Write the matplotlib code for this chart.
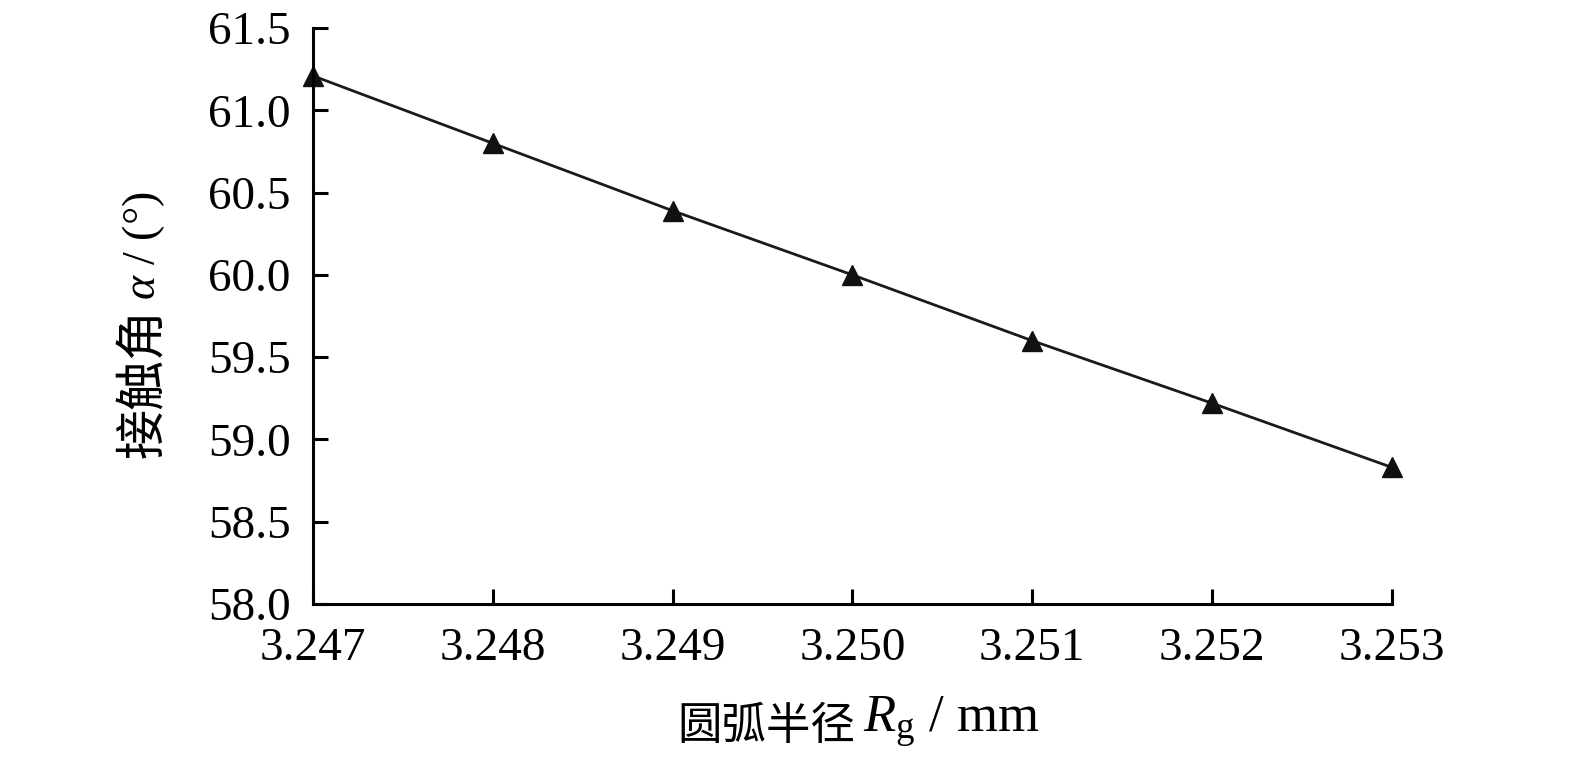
import matplotlib
matplotlib.use("Agg")
import matplotlib.pyplot as plt

# data
radius = [3.247, 3.248, 3.249, 3.250, 3.251, 3.252, 3.253]
angle = [61.21, 60.80, 60.39, 60.00, 59.60, 59.22, 58.83]
xticks = [3.247, 3.248, 3.249, 3.250, 3.251, 3.252, 3.253]
yticks = [58.0, 58.5, 59.0, 59.5, 60.0, 60.5, 61.0, 61.5]

plt.rcParams['font.family'] = ['Liberation Serif', 'Noto Sans CJK SC']
plt.rcParams['mathtext.fontset'] = 'custom'
plt.rcParams['mathtext.rm'] = 'Liberation Serif'
plt.rcParams['mathtext.it'] = 'Liberation Serif:italic'

fig = plt.figure(figsize=(15.75, 7.6), dpi=100)
ax = fig.add_axes([0.1987, 0.2053, 0.6851, 0.7577])

ax.plot(radius, angle, color='#1a1a1a', lw=2.0, marker='^', ms=14,
        markerfacecolor='#111111', markeredgecolor='#111111', clip_on=False)

ax.set_xlim(3.247, 3.253)
ax.set_ylim(58.0, 61.5)
ax.set_xticks(xticks)
ax.set_xticklabels([f"{v:.3f}" for v in xticks])
ax.set_yticks(yticks)
ax.set_yticklabels([f"{v:.1f}" for v in yticks])

for s in ['top', 'right']:
    ax.spines[s].set_visible(False)
for s in ['left', 'bottom']:
    ax.spines[s].set_linewidth(2.2)
ax.tick_params(direction='in', length=11, width=2.2, labelsize=34)
ax.tick_params(axis='x', pad=17)
ax.tick_params(axis='y', pad=16)

# axis titles: Chinese part and math part as separate texts so each gets its font
cjk = ['Noto Sans CJK SC']
xl1 = fig.text(0.430, 0.028, "圆弧半径", fontsize=32, family=cjk,
               ha='left', va='baseline')
ax.annotate("$R_{\\mathrm{g}}$ / mm", xy=(1, 0), xycoords=xl1,
            xytext=(8, 0), textcoords='offset pixels',
            fontsize=38, ha='left', va='bottom', annotation_clip=False)

yl1 = fig.text(0.0914, 0.397, "接触角", fontsize=36, family=cjk,
               rotation=90, ha='center', va='bottom')
ax.annotate("$\\alpha$ / (°)", xy=(0.5, 1), xycoords=yl1,
            xytext=(0, 8), textcoords='offset pixels',
            fontsize=33, rotation=90, ha='center', va='bottom',
            annotation_clip=False)

fig.savefig("out.png", dpi=100)
